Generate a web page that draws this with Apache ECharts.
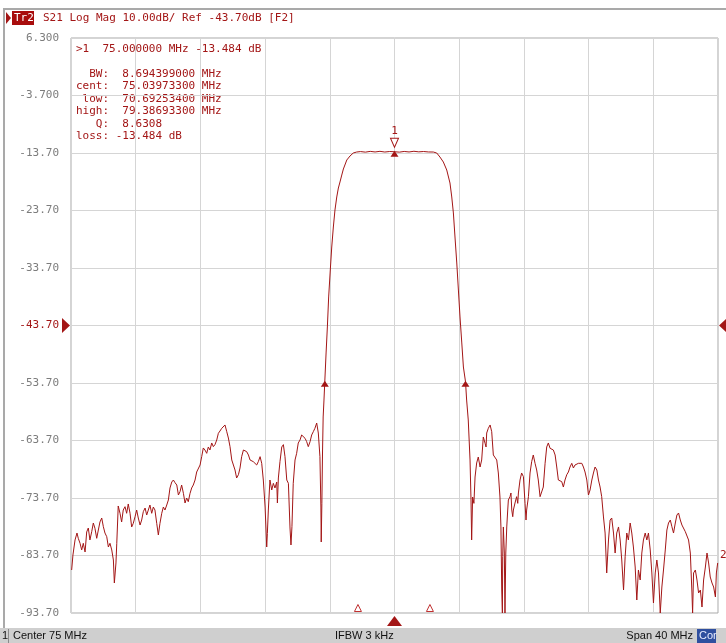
<!DOCTYPE html>
<html>
<head>
<meta charset="utf-8">
<script src="https://cdn.jsdelivr.net/npm/echarts@6/dist/echarts.min.js"></script>
<style>
html, body { margin: 0; padding: 0; background: #fff; }
#chart { width: 726px; height: 643px; }
</style>
</head>
<body>
<div id="chart"></div>
<script>
// S21 sweep, 55–95 MHz (center 75 MHz, span 40 MHz), log magnitude in dB.
const lowerStopMHz = [55.04,55.12,55.25,55.37,55.45,55.56,55.66,55.76,55.87,55.97,56.07,56.17,56.28,56.38,56.48,56.59,56.69,56.79,56.90,57.00,57.10,57.21,57.31,57.41,57.52,57.62,57.68,57.78,57.83,57.92,58.03,58.13,58.23,58.34,58.44,58.54,58.65,58.75,58.85,58.96,59.06,59.16,59.27,59.37,59.47,59.58,59.68,59.78,59.88,59.99,60.09,60.19,60.30,60.40,60.50,60.61,60.71,60.81,60.92,61.02,61.12,61.23,61.33,61.43,61.54,61.64,61.74,61.84,61.95,62.05,62.15,62.25,62.36,62.46,62.56,62.67,62.77,62.87,62.98,63.08,63.18,63.28,63.39,63.49,63.59,63.70,63.80,63.90,64.01,64.11,64.21,64.32,64.42,64.52,64.63,64.73,64.83,64.94,65.04,65.14,65.24,65.35,65.45,65.55,65.66,65.76,65.86,65.97,66.07,66.17,66.27,66.38,66.48,66.58,66.69,66.79,66.89,67.00,67.10,67.14,67.20,67.30,67.41,67.51,67.61,67.72,67.76,67.82,67.92,68.03,68.13,68.23,68.34,68.44,68.54,68.60,68.66,68.74,68.85,68.95,69.05,69.16,69.26,69.36,69.47,69.57,69.67,69.78,69.88,69.98,70.08,70.19,70.29,70.39,70.45,70.47,70.51,70.55,70.59,70.64];
const lowerStopDb = [-86.22,-83.61,-81.00,-79.79,-80.71,-81.58,-82.74,-81.58,-83.09,-79.61,-78.92,-81.00,-79.56,-78.05,-78.97,-80.71,-79.27,-77.87,-77.18,-78.69,-79.79,-80.43,-82.22,-81.58,-82.74,-84.48,-88.48,-85.00,-81.58,-75.09,-76.36,-77.87,-75.79,-75.21,-76.36,-74.74,-76.36,-78.74,-78.11,-76.95,-75.79,-77.18,-78.40,-77.53,-76.08,-75.44,-76.66,-75.79,-74.92,-76.36,-75.27,-75.79,-78.11,-80.13,-78.11,-76.36,-75.27,-75.79,-74.92,-74.05,-71.96,-70.92,-70.57,-71.03,-71.44,-73.18,-72.60,-71.44,-72.89,-74.57,-73.70,-74.34,-72.89,-71.96,-71.44,-70.57,-69.18,-69.35,-67.96,-66.51,-65.00,-65.35,-65.93,-64.83,-65.35,-64.13,-64.77,-64.42,-63.61,-62.45,-62.05,-61.58,-61.30,-61.00,-62.17,-63.27,-64.77,-67.09,-67.38,-68.83,-70.22,-69.65,-68.48,-66.51,-65.35,-65.06,-65.64,-66.22,-67.09,-67.38,-67.38,-67.67,-67.96,-67.38,-66.51,-67.67,-70.57,-75.27,-82.22,-79.85,-75.79,-70.57,-72.31,-71.15,-71.96,-70.92,-74.57,-70.22,-67.38,-64.83,-64.42,-66.51,-70.57,-71.15,-78.92,-81.87,-78.69,-71.15,-67.09,-65.93,-64.13,-63.61,-62.74,-62.40,-63.32,-63.90,-64.77,-63.90,-62.74,-62.17,-61.58,-60.66,-62.40,-66.51,-75.27,-81.35,-74.63,-65.70,-59.61,-56.66];

const passMHz = [70.69,70.77,70.85,70.93,71.03,71.12,71.22,71.32,71.43,71.53,71.63,71.74,71.84,72.05,72.25,72.45,72.66,72.9,73.2,73.5,73.8,74.1,74.4,74.7,75.0,75.3,75.6,75.9,76.2,76.5,76.8,77.1,77.40,77.61,77.81,78.02,78.23,78.43,78.54,78.64,78.74,78.85,78.95,79.05,79.16,79.26,79.39,79.46];
const passDb = [-53.48,-48.48,-43.96,-38.74,-34.05,-30.05,-26.57,-23.61,-21.35,-19.79,-18.74,-17.53,-16.48,-14.92,-14.22,-13.70,-13.53,-13.45,-13.55,-13.42,-13.52,-13.41,-13.53,-13.44,-13.48,-13.55,-13.43,-13.52,-13.40,-13.50,-13.44,-13.52,-13.53,-13.70,-14.40,-15.27,-16.66,-18.92,-21.35,-24.13,-28.31,-32.83,-37.53,-42.22,-46.74,-50.92,-53.48,-56.66];

const upperStopMHz = [79.56,79.67,79.73,79.77,79.83,79.91,79.98,80.08,80.18,80.29,80.39,80.49,80.60,80.66,80.70,80.80,80.91,81.01,81.11,81.21,81.32,81.42,81.52,81.58,81.63,81.67,81.69,81.73,81.79,81.83,81.88,81.94,82.00,82.04,82.14,82.20,82.25,82.31,82.35,82.45,82.55,82.62,82.66,82.76,82.86,82.97,83.07,83.13,83.17,83.28,83.38,83.48,83.58,83.69,83.79,83.89,84.00,84.10,84.20,84.31,84.41,84.51,84.62,84.72,84.82,84.93,85.03,85.13,85.24,85.34,85.44,85.54,85.65,85.75,85.85,85.96,86.06,86.16,86.27,86.37,86.47,86.58,86.68,86.78,86.89,86.99,87.09,87.20,87.30,87.40,87.51,87.61,87.71,87.81,87.92,88.02,88.12,88.23,88.33,88.43,88.54,88.64,88.74,88.85,88.95,89.05,89.16,89.26,89.36,89.46,89.57,89.67,89.77,89.88,89.98,90.08,90.19,90.29,90.39,90.50,90.60,90.70,90.81,90.91,91.01,91.12,91.22,91.32,91.43,91.53,91.63,91.74,91.84,91.94,92.05,92.15,92.25,92.36,92.46,92.56,92.67,92.77,92.87,92.98,93.08,93.18,93.29,93.39,93.43,93.49,93.60,93.70,93.80,93.91,94.01,94.11,94.22,94.32,94.42,94.52,94.63,94.73,94.84,94.90,94.98,95.00];
const upperStopDb = [-60.13,-67.09,-74.05,-81.00,-73.53,-74.63,-70.05,-67.61,-66.57,-68.31,-67.09,-63.09,-64.19,-64.83,-62.40,-61.58,-61.00,-62.17,-66.22,-66.51,-67.09,-69.35,-73.53,-78.74,-89.70,-93.70,-83.90,-78.74,-83.27,-93.70,-83.27,-78.74,-75.79,-74.05,-73.47,-72.83,-75.79,-76.95,-75.79,-74.57,-73.47,-74.63,-72.83,-70.57,-69.35,-69.99,-74.63,-77.53,-75.79,-73.47,-69.35,-67.38,-66.22,-67.67,-68.83,-70.57,-73.47,-73.76,-71.79,-67.67,-64.83,-64.13,-65.06,-65.06,-65.35,-66.22,-68.31,-70.57,-70.57,-70.86,-71.79,-70.57,-69.65,-69.18,-68.31,-67.67,-68.48,-67.96,-67.96,-67.67,-67.38,-67.67,-68.31,-69.18,-70.57,-73.18,-72.31,-70.57,-69.35,-68.31,-68.83,-70.57,-71.79,-73.47,-77.00,-79.79,-86.74,-81.00,-77.53,-77.18,-79.79,-83.27,-79.79,-78.74,-81.00,-84.48,-89.70,-83.90,-79.79,-81.00,-78.05,-79.79,-82.22,-85.70,-91.44,-86.22,-87.96,-83.27,-81.00,-79.79,-81.00,-79.79,-82.74,-86.74,-91.96,-86.74,-84.48,-86.74,-93.70,-89.18,-86.22,-82.74,-79.27,-78.05,-77.53,-78.69,-79.79,-78.05,-76.66,-76.31,-77.53,-78.40,-78.74,-79.56,-79.79,-81.00,-83.27,-90.22,-93.70,-86.74,-86.22,-87.96,-90.22,-89.70,-92.66,-87.96,-85.70,-83.27,-85.00,-87.44,-88.48,-89.18,-90.92,-86.74,-85.00,-85.00];

// Axis scale: 10 dB/div, reference -43.70 dB at the middle division
const refLevelDb = -43.7;
const dbPerDiv = 10;
const yMinDb = -93.7, yMaxDb = 6.3;
const startMHz = 55, stopMHz = 95, mhzPerDiv = 4, centerMHz = 75;

// Marker 1 and bandwidth search results
const markerMHz = 75.0;
const markerDb = -13.484;
const bwLowMHz = 70.692534;
const bwHighMHz = 79.386933;
const bwCentMHz = 75.039733;
const bwLevelDb = markerDb - 40;
const stimulusMarksMHz = [72.74, 77.19];
const marker2Db = -85.0;

const freqs = lowerStopMHz.concat(passMHz, upperStopMHz);
const dbs = lowerStopDb.concat(passDb, upperStopDb);
const trace = freqs.map((f, i) => [f, dbs[i]]);

const RED = '#a31616';
const MONO = 'DejaVu Sans Mono';

const bw = bwHighMHz - bwLowMHz;
const q = bwCentMHz / bw;
const readoutHead = '>1  ' + markerMHz.toFixed(6) + ' MHz ' + markerDb.toFixed(3) + ' dB';
const readoutBody = [
  '  BW:  ' + bw.toFixed(9) + ' MHz',
  'cent:  ' + bwCentMHz.toFixed(8) + ' MHz',
  ' low:  ' + bwLowMHz.toFixed(8) + ' MHz',
  'high:  ' + bwHighMHz.toFixed(8) + ' MHz',
  '   Q:  ' + q.toFixed(4),
  'loss: ' + markerDb.toFixed(3) + ' dB'
].join('\n');

const header = 'S21 Log Mag ' + dbPerDiv.toFixed(2) + 'dB/ Ref ' + refLevelDb.toFixed(2) + 'dB [F2]';

const tri = {
  up: 'triangle',
  down: 'path://M0,0L1,0L0.5,1Z',
  right: 'path://M0,0L1,0.5L0,1Z',
  left: 'path://M1,0L0,0.5L1,1Z'
};

const markData = [
  // marker 1 on the trace
  { coord: [markerMHz, markerDb], symbol: tri.up, symbolSize: [8, 6], symbolOffset: [0, 2],
    itemStyle: { color: RED }, label: { show: false } },
  { coord: [markerMHz, markerDb], symbol: tri.down, symbolSize: [8, 9], symbolOffset: [0, -9],
    itemStyle: { color: '#fff', borderColor: RED, borderWidth: 1 },
    label: { show: true, position: 'top', distance: 1, formatter: '1', color: RED, fontFamily: MONO, fontSize: 11 } },
  // bandwidth edges
  { coord: [bwLowMHz, bwLevelDb], symbol: tri.up, symbolSize: [8, 6], symbolOffset: [0, 2],
    itemStyle: { color: RED }, label: { show: false } },
  { coord: [bwHighMHz, bwLevelDb], symbol: tri.up, symbolSize: [8, 6], symbolOffset: [0, 2],
    itemStyle: { color: RED }, label: { show: false } },
  // center-of-sweep indicator below the axis
  { coord: [centerMHz, yMinDb], symbol: tri.up, symbolSize: [15, 10], symbolOffset: [0, 8],
    itemStyle: { color: RED }, label: { show: false } },
  // reference level arrows
  { coord: [startMHz, refLevelDb], symbol: tri.right, symbolSize: [8, 15], symbolOffset: [-5, 0],
    itemStyle: { color: RED }, label: { show: false } },
  { coord: [stopMHz, refLevelDb], symbol: tri.left, symbolSize: [8, 15], symbolOffset: [5, 0],
    itemStyle: { color: RED }, label: { show: false } },
  // marker 2 label at the stop frequency
  { coord: [stopMHz, marker2Db], symbol: 'circle', symbolSize: 0,
    label: { show: true, position: 'right', distance: 2, offset: [0, -8], formatter: '2', color: RED, fontFamily: MONO, fontSize: 11 } }
].concat(stimulusMarksMHz.map(f => ({
  coord: [f, yMinDb], symbol: tri.up, symbolSize: [7, 7], symbolOffset: [0, -5],
  itemStyle: { color: '#fff', borderColor: '#c03030', borderWidth: 1 }, label: { show: false }
})));

const chart = echarts.init(document.getElementById('chart'), null, { renderer: 'canvas' });

chart.setOption({
  animation: false,
  backgroundColor: '#fff',
  grid: { left: 71, right: 8, top: 38, bottom: 30, show: true, borderColor: '#a9a9a9', borderWidth: 1, backgroundColor: 'transparent' },
  xAxis: {
    type: 'value', min: startMHz, max: stopMHz, interval: mhzPerDiv,
    axisLine: { show: false }, axisTick: { show: false }, axisLabel: { show: false },
    splitLine: { show: true, lineStyle: { color: '#d5d5d5', width: 1 } }
  },
  yAxis: {
    type: 'value', min: yMinDb, max: yMaxDb, interval: dbPerDiv,
    axisLine: { show: false }, axisTick: { show: false },
    axisLabel: {
      showMinLabel: true, showMaxLabel: true,
      margin: 12, fontFamily: MONO, fontSize: 11, color: '#7c7c7c',
      formatter: v => {
        const s = Number(v).toPrecision(4);
        return Math.abs(v - refLevelDb) < 1e-6 ? '{r|' + s + '}' : s;
      },
      rich: { r: { color: RED, fontFamily: MONO, fontSize: 11 } }
    },
    splitLine: { show: true, lineStyle: { color: '#d5d5d5', width: 1 } }
  },
  series: [{
    type: 'line', data: trace, showSymbol: false, symbol: 'none',
    lineStyle: { color: RED, width: 1 },
    markPoint: { animation: false, data: markData }
  }],
  graphic: [
    // window frame
    { type: 'rect', shape: { x: 4, y: 8, width: 722, height: 2 }, style: { fill: '#a9a9a9' }, silent: true },
    { type: 'rect', shape: { x: 3, y: 8, width: 2, height: 620 }, style: { fill: '#a9a9a9' }, silent: true },
    // channel title bar
    { type: 'polygon', shape: { points: [[6, 12], [11, 18], [6, 24]] }, style: { fill: RED } },
    { type: 'rect', shape: { x: 12, y: 11, width: 22, height: 14 }, style: { fill: '#a80c0c' } },
    { type: 'text', x: 14, y: 18, style: { text: 'Tr2', fill: '#fff', font: '11px "DejaVu Sans Mono"', verticalAlign: 'middle' } },
    { type: 'text', x: 43, y: 18, style: { text: header, fill: RED, font: '11px "DejaVu Sans Mono"', verticalAlign: 'middle' } },
    // marker readout
    { type: 'text', x: 76, y: 49, style: { text: readoutHead, fill: RED, font: '11px "DejaVu Sans Mono"', verticalAlign: 'middle' } },
    { type: 'text', x: 76, y: 68, style: { text: readoutBody, fill: RED, font: '11px "DejaVu Sans Mono"', lineHeight: 12.4, verticalAlign: 'top' } },
    // status bar
    { type: 'rect', shape: { x: 0, y: 628, width: 726, height: 15 }, style: { fill: '#cfcfcf' }, silent: true },
    { type: 'rect', shape: { x: 8, y: 629, width: 1, height: 14 }, style: { fill: '#8a8a8a' }, silent: true },
    { type: 'text', x: 2, y: 636, style: { text: '1', fill: '#111', font: '11px "Liberation Sans"', verticalAlign: 'middle' } },
    { type: 'text', x: 13, y: 636, style: { text: 'Center ' + centerMHz + ' MHz', fill: '#111', font: '11px "Liberation Sans"', verticalAlign: 'middle' } },
    { type: 'text', x: 335, y: 636, style: { text: 'IFBW 3 kHz', fill: '#111', font: '11px "Liberation Sans"', verticalAlign: 'middle' } },
    { type: 'text', x: 693, y: 636, style: { text: 'Span ' + (stopMHz - startMHz) + ' MHz', fill: '#111', font: '11px "Liberation Sans"', verticalAlign: 'middle', align: 'right' } },
    { type: 'rect', shape: { x: 697, y: 629, width: 19, height: 14 }, style: { fill: '#2f4f9f' }, silent: true },
    { type: 'text', x: 699, y: 636, style: { text: 'Cor', fill: '#e8ecff', font: '11px "Liberation Sans"', verticalAlign: 'middle' } }
  ]
});
</script>
</body>
</html>
